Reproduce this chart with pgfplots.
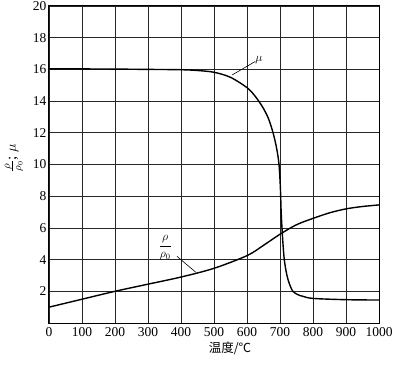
\documentclass[border=0pt]{standalone}
\usepackage{pgfplots}
\pgfplotsset{compat=1.18}
\usepackage{fontspec}
\setmainfont{Liberation Serif}
\newfontfamily\cjk{Noto Sans CJK SC}
\begin{document}
\begin{tikzpicture}
\useasboundingbox (-49pt,-41pt) rectangle (344pt,323pt);
\begin{axis}[
  scale only axis,
  width=330pt, height=317pt,
  xmin=0, xmax=1000, ymin=0, ymax=20,
  xtick={0,100,...,1000},
  ytick={2,4,...,20},
  grid=major,
  major grid style={black!85, line width=0.6pt},
  axis line style={black, line width=1pt},
  tick style={draw=none},
  /pgf/number format/assume math mode=true,
  /pgf/number format/1000 sep={},
  tick label style={font=\fontsize{13.5}{15}\selectfont},
  xticklabel style={yshift=-1pt},
  yticklabel style={xshift=1pt},
  xlabel={\cjk 温度/℃},
  ylabel={$\frac{\rho}{\rho_0}$; $\mu$},
  every axis x label/.style={at={([xshift=16pt,yshift=-25pt]axis description cs:0.5,0)}, anchor=center, font=\fontsize{12.5}{14}\selectfont},
  every axis y label/.style={at={([xshift=-35pt]axis description cs:0,0.52)}, rotate=90, anchor=center, font=\fontsize{15}{17}\selectfont},
]
\addplot[black, line width=1.4pt, smooth, tension=0.5] coordinates {
(0,16.03) (100,16.03) (200,16.02) (300,16.0) (400,15.98) (450,15.93) (500,15.82)
(550,15.5) (600,14.85) (625,14.3) (648,13.6) (665,12.9) (679,12.0) (690,11.0)
(697,10.0) (701,8.6) (703.5,7) (706,6) (709,5) (713,4) (720,3.1) (728,2.5) (739,2.0)
(755,1.78) (770,1.68) (800,1.55) (900,1.47) (1000,1.45)
};
\addplot[black, line width=1.4pt, smooth] coordinates {
(0,1.0) (100,1.5) (200,2.0) (300,2.45) (400,2.9) (500,3.45) (600,4.25)
(650,4.9) (700,5.6) (750,6.2) (800,6.6) (850,6.95) (900,7.2) (950,7.35) (1000,7.45)
};
\draw[black, line width=0.6pt] (axis cs:555,15.65) -- (axis cs:625,16.5);
\node[anchor=south west, inner sep=1pt, font=\fontsize{13}{14}\selectfont] at (axis cs:622,16.3) {$\mu$};
\draw[black, line width=0.6pt] (axis cs:388,4.2) -- (axis cs:445,3.2);
\node[inner sep=1pt, font=\fontsize{12}{14}\selectfont] at (axis cs:352,4.75) {$\displaystyle\frac{\rho}{\rho_0}$};
\end{axis}
\end{tikzpicture}
\end{document}
